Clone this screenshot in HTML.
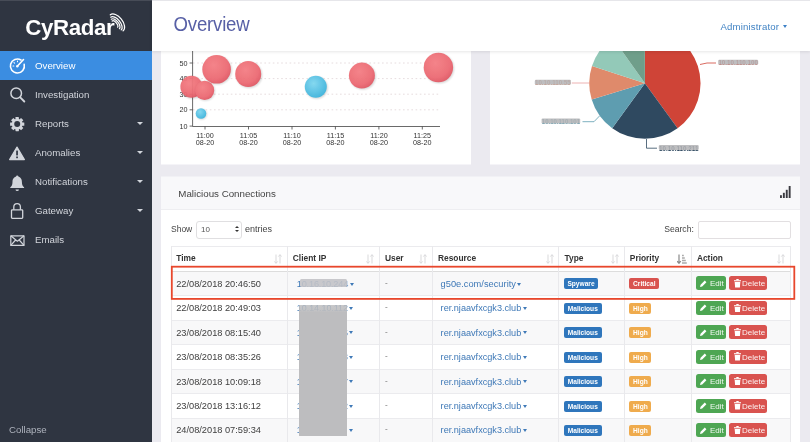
<!DOCTYPE html>
<html><head><meta charset="utf-8">
<style>
*{box-sizing:border-box;margin:0;padding:0}
html,body{width:810px;height:442px;overflow:hidden;background:#ebeaf0;font-family:"Liberation Sans",sans-serif;}
body{position:relative}
#side{position:absolute;left:0;top:0;width:152px;height:442px;box-shadow:-6px 0 0 #2f3541,-6px 6px 0 #2f3541,0 6px 0 #2f3541,-6px -6px 0 #474c57,0 -6px 0 #474c57;background:#2f3541}
#logo{position:absolute;left:25.3px;top:14.9px;font-size:22.3px;letter-spacing:-.4px;font-weight:bold;color:#fff;line-height:26px;white-space:nowrap}
.mi{position:absolute;left:0;width:152px;height:29px;color:#d2d5db;font-size:9.7px;line-height:29px;padding-left:35px;white-space:nowrap}
.mi.act{background:#3b8de1;color:#fff}
.mi svg{position:absolute;left:8px;top:5px;width:19px;height:19px;overflow:visible}
.mi .car{position:absolute;left:136.5px;top:13.3px;width:0;height:0;border-left:3px solid transparent;border-right:3px solid transparent;border-top:3.3px solid #d2d5db}
#collapse{position:absolute;left:9px;top:424px;font-size:9.7px;color:#aeb3bd;line-height:12px}
#top{position:absolute;left:152px;top:0;width:658px;height:51px;background:#fff;box-shadow:0 1px 3px rgba(0,0,0,.10),0 -5px 0 #e6e6ea,6px 0 0 #fff;z-index:5}
#title{position:absolute;left:21.6px;top:12.4px;font-size:18.6px;color:#5860a6;line-height:26px;letter-spacing:-.2px;transform:scaleY(1.08);transform-origin:0 19.1px}
#admin{position:absolute;left:568.4px;top:19.7px;font-size:9.6px;color:#4183c4;line-height:14px;white-space:nowrap;letter-spacing:.17px}
#admin i{display:inline-block;margin-left:3.6px;vertical-align:1.7px;border-left:2.7px solid transparent;border-right:2.7px solid transparent;border-top:3px solid #3d80c6}
.panel{position:absolute;background:#fff;overflow:hidden}
svg text{font-family:"Liberation Sans",sans-serif}
/* table */
#ph{position:absolute;left:0;top:0;width:100%;height:34px;background:#f8f8fa;border-bottom:1px solid #eeeef1;border-top:1px solid #f1f1f5}
#ph span{position:absolute;left:17.3px;top:9.8px;font-size:9.75px;color:#444;line-height:14px}
.t{position:absolute;font-size:8.2px;color:#404040;line-height:12px;white-space:nowrap}
.h{position:absolute;font-size:8.4px;font-weight:bold;color:#333;line-height:12px;white-space:nowrap}
.lk{color:#3f79b7}
.lk i,.caret{display:inline-block;margin-left:1.5px;vertical-align:1.2px;border-left:2.9px solid transparent;border-right:2.9px solid transparent;border-top:3.1px solid #3f79b7}
.vl{position:absolute;top:246px;width:1px;height:196px;background:#e9e9ec}
.hl{position:absolute;left:171px;width:619px;height:1px;background:#ebebee}
.row{position:absolute;left:171px;width:619px;height:24.45px}
.odd{background:#f8f8f9}
.bd{position:absolute;height:11px;border-radius:2px;color:#fff;font-size:6.6px;font-weight:bold;line-height:11px;text-align:center;white-space:nowrap}
.btn{position:absolute;height:14px;border-radius:2.5px;color:rgba(255,255,255,.92);font-size:8px;line-height:15px;white-space:nowrap}
.sort{position:absolute;width:8px;height:10px}
#wrap{position:absolute;left:-6px;top:-6px;width:822px;height:454px;background:#ebeaf0;filter:blur(.35px);overflow:hidden}
#in{position:absolute;left:6px;top:6px;width:810px;height:442px}
</style></head><body><div id="wrap"><div id="in">
<div id="side">
 <div id="logo">CyRadar</div>
 <svg style="position:absolute;left:100px;top:5px" width="40" height="40" viewBox="100 5 40 40" fill="none" stroke="#fff" stroke-width="1.25" stroke-linecap="round"><path d="M110.3 14.8 A10.24 5.90 51.3 0 1 123.1 30.8"/><path d="M110.7 17.2 A8.24 4.40 50.4 0 1 121.2 29.9"/><path d="M111.3 19.2 A6.24 3.10 49.5 0 1 119.4 28.7"/><path d="M112.2 21.0 A4.11 1.90 48.9 0 1 117.6 27.2"/></svg>
 <div class="mi act" style="top:51px"><svg viewBox="0 0 19 19" fill="none" stroke="#fff" stroke-width="1.6" stroke-linecap="round"><path d="M13 4 A7 7 0 1 0 16.2 8.4"/><path d="M9.5 10 L15.5 3.5"/><circle cx="9.3" cy="10.2" r="1.2" fill="#fff" stroke="none"/><path d="M5 10h.8M6 6.6l.6.5M9.5 5v.8" stroke-width="1.1"/></svg>Overview</div>
 <div class="mi" style="top:80px"><svg viewBox="0 0 19 19" fill="none" stroke="#d2d5db" stroke-width="1.5" stroke-linecap="round"><circle cx="8.2" cy="8.3" r="5.3"/><path d="M12.2 12.4 L16.3 16.5" stroke-width="1.9"/></svg>Investigation</div>
 <div class="mi" style="top:109px"><svg viewBox="0 0 19 19"><g transform="translate(9.2,10.1)"><g fill="#d2d5db"><rect x="-1.7" y="-7.1" width="3.4" height="14.2" rx=".4"/><rect x="-1.7" y="-7.1" width="3.4" height="14.2" rx=".4" transform="rotate(45)"/><rect x="-1.7" y="-7.1" width="3.4" height="14.2" rx=".4" transform="rotate(90)"/><rect x="-1.7" y="-7.1" width="3.4" height="14.2" rx=".4" transform="rotate(135)"/><circle r="5.4"/></g><circle r="3" fill="#2f3541"/></g></svg>Reports<span class="car"></span></div>
 <div class="mi" style="top:138px"><svg viewBox="0 -1.3 19 19"><path d="M9 2.8 L16.4 15.3 H1.6 Z" fill="#d2d5db" stroke="#d2d5db" stroke-width="1.2" stroke-linejoin="round"/><rect x="8.2" y="6.3" width="1.7" height="4.8" fill="#2f3541"/><rect x="8.2" y="12.2" width="1.7" height="1.7" fill="#2f3541"/></svg>Anomalies<span class="car"></span></div>
 <div class="mi" style="top:167px"><svg viewBox="0 -1.4 19 19" fill="#d2d5db"><path d="M9.2 3.2 c-3.3 0 -4.7 2.6 -4.7 5.3 c0 3 -1 4.3 -2.2 5.3 v.9 h13.8 v-.9 c-1.2 -1 -2.2 -2.3 -2.2 -5.3 c0 -2.7 -1.4 -5.3 -4.7 -5.3 z"/><circle cx="9.2" cy="3.2" r="1.1"/><path d="M7.5 16 h3.4 a1.7 1.7 0 0 1 -3.4 0z"/></svg>Notifications<span class="car"></span></div>
 <div class="mi" style="top:196px"><svg viewBox="0 0 19 19" fill="none" stroke="#d2d5db" stroke-width="1.3"><rect x="3.5" y="8.8" width="11.2" height="8.6" rx=".8"/><path d="M5.8 8.8 V6 a3.3 3.3 0 0 1 6.6 0 V8.8"/></svg>Gateway<span class="car"></span></div>
 <div class="mi" style="top:225px"><svg viewBox="0 0 19 19" fill="none" stroke="#d2d5db" stroke-width="1.2" stroke-linejoin="round"><rect x="2.8" y="5.8" width="13.2" height="9.6"/><path d="M2.8 5.8 L9.4 11.2 L16 5.8 M2.8 15.4 L7.6 10 M16 15.4 L11.2 10"/></svg>Emails</div>
 <div id="collapse">Collapse</div>
</div>
<div style="position:absolute;left:0;top:0;width:152px;height:1px;background:#474c57;z-index:9"></div><div style="position:absolute;left:152px;top:0;width:658px;height:1px;background:#e6e6ea;z-index:9"></div>
<div id="top"><div id="title">Overview</div><div id="admin">Administrator<i></i></div></div>

<!-- bubble chart -->
<div class="panel" style="left:161px;top:51px;width:310px;height:113px">
<svg width="310" height="113" viewBox="161 51 310 113" style="position:absolute;left:0;top:0">
 <defs>
  <radialGradient id="gr" cx="40%" cy="35%" r="65%"><stop offset="0" stop-color="#f47e84"/><stop offset=".75" stop-color="#ec6a73"/><stop offset="1" stop-color="#e05a66"/></radialGradient>
  <radialGradient id="gb" cx="40%" cy="35%" r="65%"><stop offset="0" stop-color="#7fd6ef"/><stop offset="1" stop-color="#3fb4dc"/></radialGradient>
  <filter id="sh" x="-30%" y="-30%" width="160%" height="160%"><feGaussianBlur stdDeviation="1.2"/></filter>
 </defs>
 <g stroke="#dfd3d6" stroke-width=".8" stroke-dasharray="1.6 2.6"><path d="M193 63H440M193 78.6H440M193 94.2H440M193 109.8H440"/></g>
 <g stroke="#444" stroke-width=".8" fill="none"><path d="M192.6 51V126.5H440"/><path d="M189.6 63h3M189.6 78.6h3M189.6 94.2h3M189.6 109.8h3M189.6 126.1h3"/><path d="M205 126.5v3M248.5 126.5v3M292 126.5v3M335.4 126.5v3M378.9 126.5v3M422.3 126.5v3"/></g>
 <g font-size="7.2" fill="#333" text-anchor="end"><text x="187.5" y="65.6">50</text><text x="187.5" y="81.2">40</text><text x="187.5" y="96.8">30</text><text x="187.5" y="112.4">20</text><text x="187.5" y="128.7">10</text></g>
 <g font-size="7.2" fill="#333" text-anchor="middle">
  <text x="205" y="138">11:00</text><text x="205" y="145.3">08-20</text>
  <text x="248.5" y="138">11:05</text><text x="248.5" y="145.3">08-20</text>
  <text x="292" y="138">11:10</text><text x="292" y="145.3">08-20</text>
  <text x="335.4" y="138">11:15</text><text x="335.4" y="145.3">08-20</text>
  <text x="378.9" y="138">11:20</text><text x="378.9" y="145.3">08-20</text>
  <text x="422.3" y="138">11:25</text><text x="422.3" y="145.3">08-20</text>
 </g>
 <g opacity=".95">
  <circle cx="192.3" cy="87.6" r="11" fill="#000" opacity=".18" filter="url(#sh)"/><circle cx="191.4" cy="86.7" r="11" fill="url(#gr)"/>
  <circle cx="205.4" cy="91.2" r="9.6" fill="#000" opacity=".18" filter="url(#sh)"/><circle cx="204.6" cy="90.4" r="9.6" fill="url(#gr)"/>
  <circle cx="217.5" cy="70.2" r="14.3" fill="#000" opacity=".18" filter="url(#sh)"/><circle cx="216.6" cy="69.3" r="14.3" fill="url(#gr)"/>
  <circle cx="249.2" cy="75" r="13" fill="#000" opacity=".18" filter="url(#sh)"/><circle cx="248.2" cy="74" r="13" fill="url(#gr)"/>
  <circle cx="201.7" cy="114.2" r="5.3" fill="#000" opacity=".18" filter="url(#sh)"/><circle cx="201" cy="113.5" r="5.3" fill="url(#gb)"/>
  <circle cx="316.7" cy="87.7" r="11" fill="#000" opacity=".18" filter="url(#sh)"/><circle cx="315.8" cy="86.8" r="11" fill="url(#gb)"/>
  <circle cx="362.9" cy="76.6" r="13" fill="#000" opacity=".18" filter="url(#sh)"/><circle cx="361.9" cy="75.6" r="13" fill="url(#gr)"/>
  <circle cx="439.4" cy="68.5" r="14.7" fill="#000" opacity=".18" filter="url(#sh)"/><circle cx="438.4" cy="67.5" r="14.7" fill="url(#gr)"/>
 </g>
</svg>
</div>

<!-- pie -->
<div class="panel" style="left:490px;top:51px;width:310px;height:113px">
<svg width="310" height="113" viewBox="490 51 310 113" style="position:absolute;left:0;top:0">
 <defs><filter id="bl" x="-10%" y="-50%" width="120%" height="200%"><feGaussianBlur stdDeviation=".55"/></filter></defs><g id="pie"><path d="M644.9 83.2 L644.9 27.6 A55.6 55.6 0 0 1 677.6 128.2 Z" fill="#cf4437"/><path d="M644.9 83.2 L677.6 128.2 A55.6 55.6 0 0 1 612.2 128.2 Z" fill="#2f4960"/><path d="M644.9 83.2 L612.2 128.2 A55.6 55.6 0 0 1 591.7 99.5 Z" fill="#5e9db0"/><path d="M644.9 83.2 L591.7 99.5 A55.6 55.6 0 0 1 592.0 66.0 Z" fill="#df8a6b"/><path d="M644.9 83.2 L592.0 66.0 A55.6 55.6 0 0 1 612.7 37.9 Z" fill="#93c9b8"/><path d="M644.9 83.2 L612.7 37.9 A55.6 55.6 0 0 1 644.9 27.6 Z" fill="#6f9e8a"/><g fill="none" stroke-width=".8"><path d="M700 64.5 L707 63 H716" stroke="#cf4437"/><path d="M589.5 83 H571.8" stroke="#e9a0a0"/><path d="M599.5 116 L594 121.7 H582.5" stroke="#5e9db0"/><path d="M646.5 139 V148.2 H657" stroke="#2f4960"/></g><g font-size="6.8" font-weight="bold" filter="url(#bl)"><text x="718.4" y="65.4" textLength="39.6" lengthAdjust="spacingAndGlyphs" fill="#cf4437">10.10.110.100</text><text x="535.0" y="85.4" textLength="35.7" lengthAdjust="spacingAndGlyphs" fill="#df8a6b">10.10.110.55</text><text x="541.8" y="124.1" textLength="38.2" lengthAdjust="spacingAndGlyphs" fill="#5e9db0">10.10.110.101</text><text x="659.0" y="150.6" textLength="39.5" lengthAdjust="spacingAndGlyphs" fill="#2f4960">10.10.110.211</text></g><g filter="url(#bl)" fill="#b3b3b6"><rect x="718.2" y="59.7" width="40.0" height="5" rx="1.2" opacity=".86"/><rect x="534.8" y="79.7" width="36.1" height="5" rx="1.2" opacity=".86"/><rect x="541.6" y="118.4" width="38.6" height="5" rx="1.2" opacity=".86"/><rect x="658.8" y="144.9" width="39.9" height="5" rx="1.2" opacity=".86"/></g></g>
</svg>
</div>

<div style="position:absolute;left:161px;top:164px;width:310px;height:1px;background:#f5f4f8"></div><div style="position:absolute;left:490px;top:164px;width:310px;height:1px;background:#f5f4f8"></div>
<!-- table panel -->
<div class="panel" id="p3" style="left:161px;top:176px;width:639px;height:274px">
 <div id="ph"><span>Malicious Connections</span></div>
<div class="t" style="left:10.0px;top:47.0px;font-size:8.5px;color:#444">Show</div><div style="position:absolute;left:35.0px;top:44.5px;width:46px;height:18px;border:1px solid #e0dfe1;border-radius:3px;background:#fff"></div><div class="t" style="left:40.0px;top:47.5px;font-size:8px;color:#555">10</div><div style="position:absolute;left:74.0px;top:50.0px;width:0;height:0;border-left:2px solid transparent;border-right:2px solid transparent;border-bottom:2.5px solid #333"></div><div style="position:absolute;left:74.0px;top:54.0px;width:0;height:0;border-left:2px solid transparent;border-right:2px solid transparent;border-top:2.5px solid #333"></div><div class="t" style="left:84.0px;top:47.0px;font-size:9px;color:#444">entries</div><div class="t" style="left:503.2px;top:47.0px;font-size:8.620px;color:#444">Search:</div><div style="position:absolute;left:537.0px;top:44.5px;width:92.5px;height:18px;border:1px solid #e2dfe1;border-radius:2px;background:#fff"></div><svg style="position:absolute;left:619.3px;top:10.0px" width="11" height="12" viewBox="0 0 11 12" fill="#3a3a40"><rect x="0" y="9.2" width="1.9" height="2.8"/><rect x="2.9" y="6.8" width="1.9" height="5.2"/><rect x="5.8" y="3.8" width="1.9" height="8.2"/><rect x="8.7" y="0" width="1.9" height="12"/></svg><div class="row odd" style="left:10.0px;top:95.5px"></div><div class="row" style="left:10.0px;top:119.9px"></div><div class="row odd" style="left:10.0px;top:144.4px"></div><div class="row" style="left:10.0px;top:168.9px"></div><div class="row odd" style="left:10.0px;top:193.3px"></div><div class="row" style="left:10.0px;top:217.8px"></div><div class="row odd" style="left:10.0px;top:242.2px"></div><div class="hl" style="left:10.0px;top:70.0px"></div><div class="hl" style="left:10.0px;top:94.5px;background:#ddd"></div><div class="hl" style="left:10.0px;top:119.4px"></div><div class="hl" style="left:10.0px;top:143.9px"></div><div class="hl" style="left:10.0px;top:168.4px"></div><div class="hl" style="left:10.0px;top:192.8px"></div><div class="hl" style="left:10.0px;top:217.2px"></div><div class="hl" style="left:10.0px;top:241.7px"></div><div class="vl" style="left:10.0px;top:70.0px"></div><div class="vl" style="left:126.0px;top:70.0px"></div><div class="vl" style="left:218.0px;top:70.0px"></div><div class="vl" style="left:271.0px;top:70.0px"></div><div class="vl" style="left:397.0px;top:70.0px"></div><div class="vl" style="left:463.0px;top:70.0px"></div><div class="vl" style="left:530.0px;top:70.0px"></div><div class="vl" style="left:629.0px;top:70.0px"></div><div class="h" style="left:15.3px;top:75.8px">Time</div><div class="h" style="left:131.8px;top:75.8px">Client IP</div><div class="h" style="left:224.0px;top:75.8px">User</div><div class="h" style="left:277.0px;top:75.8px">Resource</div><div class="h" style="left:403.6px;top:75.8px">Type</div><div class="h" style="left:468.8px;top:75.8px">Priority</div><div class="h" style="left:535.9px;top:75.8px">Action</div><svg class="sort" style="left:112.5px;top:77.5px" viewBox="0 0 8 10" fill="none" stroke="#d9d9db" stroke-width="1"><path d="M2 .5V9.3M.3 7.4L2 9.3L3.7 7.4M6 9.5V.7M4.3 2.6L6 .7L7.7 2.6"/></svg><svg class="sort" style="left:205.4px;top:77.5px" viewBox="0 0 8 10" fill="none" stroke="#d9d9db" stroke-width="1"><path d="M2 .5V9.3M.3 7.4L2 9.3L3.7 7.4M6 9.5V.7M4.3 2.6L6 .7L7.7 2.6"/></svg><svg class="sort" style="left:257.8px;top:77.5px" viewBox="0 0 8 10" fill="none" stroke="#d9d9db" stroke-width="1"><path d="M2 .5V9.3M.3 7.4L2 9.3L3.7 7.4M6 9.5V.7M4.3 2.6L6 .7L7.7 2.6"/></svg><svg class="sort" style="left:384.6px;top:77.5px" viewBox="0 0 8 10" fill="none" stroke="#d9d9db" stroke-width="1"><path d="M2 .5V9.3M.3 7.4L2 9.3L3.7 7.4M6 9.5V.7M4.3 2.6L6 .7L7.7 2.6"/></svg><svg class="sort" style="left:449.7px;top:77.5px" viewBox="0 0 8 10" fill="none" stroke="#d9d9db" stroke-width="1"><path d="M2 .5V9.3M.3 7.4L2 9.3L3.7 7.4M6 9.5V.7M4.3 2.6L6 .7L7.7 2.6"/></svg><svg class="sort" style="left:616.4px;top:77.5px" viewBox="0 0 8 10" fill="none" stroke="#d9d9db" stroke-width="1"><path d="M2 .5V9.3M.3 7.4L2 9.3L3.7 7.4M6 9.5V.7M4.3 2.6L6 .7L7.7 2.6"/></svg><svg class="sort" style="left:516.2px;top:77.5px;width:10px" viewBox="0 0 10 10" fill="none" stroke="#8a8a8a" stroke-width="1.2"><path d="M2 .5V9.3M.2 7.2L2 9.3L3.8 7.2"/><path d="M5 1.5h1.8M5 4h2.8M5 6.5h3.8M5 9h4.8" stroke="#aaa" stroke-width="1.5"/></svg><div class="t" style="left:15.2px;top:101.7px;font-size:9.240px">22/08/2018 20:46:50</div><div class="t lk" style="left:135.8px;top:101.7px;font-size:9.2px"><span style="letter-spacing:-.2px">10.16.10.244</span><i></i></div><div class="t" style="left:224.0px;top:101.7px;color:#888">-</div><div class="t lk" style="left:279.6px;top:101.7px;font-size:9.290px">g50e.com/security<i></i></div><div class="bd" style="left:403.0px;top:102.4px;width:34px;background:#2f76bc">Spyware</div><div class="bd" style="left:468.3px;top:102.4px;width:30px;background:#d9534f">Critical</div><div class="btn" style="left:535.4px;top:100.3px;width:29.2px;background:#4ea653;padding-left:13.5px"><svg style="position:absolute;left:4px;top:3.5px" width="7" height="7" viewBox="0 0 7 7"><path d="M0 7L.6 4.8L4.8 .6L6.4 2.2L2.2 6.4Z" fill="#fff"/></svg>Edit</div><div class="btn" style="left:568.0px;top:100.3px;width:38.3px;background:#d9534f;padding-left:13px"><svg style="position:absolute;left:4.5px;top:2.8px" width="7" height="8.5" viewBox="0 0 7 8.5" fill="#fff"><rect x="0" y="1.2" width="7" height="1.1"/><rect x="2.3" y="0" width="2.4" height="1.2"/><path d="M.7 2.9H6.3L5.9 8.5H1.1Z"/></svg>Delete</div><div class="t" style="left:15.2px;top:126.2px;font-size:9.240px">22/08/2018 20:49:03</div><div class="t lk" style="left:135.8px;top:126.2px;font-size:8.9px"><span>10.14.10.112</span><i></i></div><div class="t" style="left:224.0px;top:126.2px;color:#888">-</div><div class="t lk" style="left:279.6px;top:126.2px;font-size:9.150px">rer.njaavfxcgk3.club<i></i></div><div class="bd" style="left:403.0px;top:126.9px;width:37.6px;background:#2f76bc">Malicious</div><div class="bd" style="left:468.3px;top:126.9px;width:22.2px;background:#efab4d">High</div><div class="btn" style="left:535.4px;top:124.8px;width:29.2px;background:#4ea653;padding-left:13.5px"><svg style="position:absolute;left:4px;top:3.5px" width="7" height="7" viewBox="0 0 7 7"><path d="M0 7L.6 4.8L4.8 .6L6.4 2.2L2.2 6.4Z" fill="#fff"/></svg>Edit</div><div class="btn" style="left:568.0px;top:124.8px;width:38.3px;background:#d9534f;padding-left:13px"><svg style="position:absolute;left:4.5px;top:2.8px" width="7" height="8.5" viewBox="0 0 7 8.5" fill="#fff"><rect x="0" y="1.2" width="7" height="1.1"/><rect x="2.3" y="0" width="2.4" height="1.2"/><path d="M.7 2.9H6.3L5.9 8.5H1.1Z"/></svg>Delete</div><div class="t" style="left:15.2px;top:150.6px;font-size:9.240px">23/08/2018 08:15:40</div><div class="t lk" style="left:135.8px;top:150.6px;font-size:8.9px"><span>10.14.10.115</span><i></i></div><div class="t" style="left:224.0px;top:150.6px;color:#888">-</div><div class="t lk" style="left:279.6px;top:150.6px;font-size:9.150px">rer.njaavfxcgk3.club<i></i></div><div class="bd" style="left:403.0px;top:151.3px;width:37.6px;background:#2f76bc">Malicious</div><div class="bd" style="left:468.3px;top:151.3px;width:22.2px;background:#efab4d">High</div><div class="btn" style="left:535.4px;top:149.2px;width:29.2px;background:#4ea653;padding-left:13.5px"><svg style="position:absolute;left:4px;top:3.5px" width="7" height="7" viewBox="0 0 7 7"><path d="M0 7L.6 4.8L4.8 .6L6.4 2.2L2.2 6.4Z" fill="#fff"/></svg>Edit</div><div class="btn" style="left:568.0px;top:149.2px;width:38.3px;background:#d9534f;padding-left:13px"><svg style="position:absolute;left:4.5px;top:2.8px" width="7" height="8.5" viewBox="0 0 7 8.5" fill="#fff"><rect x="0" y="1.2" width="7" height="1.1"/><rect x="2.3" y="0" width="2.4" height="1.2"/><path d="M.7 2.9H6.3L5.9 8.5H1.1Z"/></svg>Delete</div><div class="t" style="left:15.2px;top:175.1px;font-size:9.240px">23/08/2018 08:35:26</div><div class="t lk" style="left:135.8px;top:175.1px;font-size:8.9px"><span>10.14.10.113</span><i></i></div><div class="t" style="left:224.0px;top:175.1px;color:#888">-</div><div class="t lk" style="left:279.6px;top:175.1px;font-size:9.150px">rer.njaavfxcgk3.club<i></i></div><div class="bd" style="left:403.0px;top:175.8px;width:37.6px;background:#2f76bc">Malicious</div><div class="bd" style="left:468.3px;top:175.8px;width:22.2px;background:#efab4d">High</div><div class="btn" style="left:535.4px;top:173.7px;width:29.2px;background:#4ea653;padding-left:13.5px"><svg style="position:absolute;left:4px;top:3.5px" width="7" height="7" viewBox="0 0 7 7"><path d="M0 7L.6 4.8L4.8 .6L6.4 2.2L2.2 6.4Z" fill="#fff"/></svg>Edit</div><div class="btn" style="left:568.0px;top:173.7px;width:38.3px;background:#d9534f;padding-left:13px"><svg style="position:absolute;left:4.5px;top:2.8px" width="7" height="8.5" viewBox="0 0 7 8.5" fill="#fff"><rect x="0" y="1.2" width="7" height="1.1"/><rect x="2.3" y="0" width="2.4" height="1.2"/><path d="M.7 2.9H6.3L5.9 8.5H1.1Z"/></svg>Delete</div><div class="t" style="left:15.2px;top:199.5px;font-size:9.240px">23/08/2018 10:09:18</div><div class="t lk" style="left:135.8px;top:199.5px;font-size:8.9px"><span>10.14.10.117</span><i></i></div><div class="t" style="left:224.0px;top:199.5px;color:#888">-</div><div class="t lk" style="left:279.6px;top:199.5px;font-size:9.150px">rer.njaavfxcgk3.club<i></i></div><div class="bd" style="left:403.0px;top:200.2px;width:37.6px;background:#2f76bc">Malicious</div><div class="bd" style="left:468.3px;top:200.2px;width:22.2px;background:#efab4d">High</div><div class="btn" style="left:535.4px;top:198.1px;width:29.2px;background:#4ea653;padding-left:13.5px"><svg style="position:absolute;left:4px;top:3.5px" width="7" height="7" viewBox="0 0 7 7"><path d="M0 7L.6 4.8L4.8 .6L6.4 2.2L2.2 6.4Z" fill="#fff"/></svg>Edit</div><div class="btn" style="left:568.0px;top:198.1px;width:38.3px;background:#d9534f;padding-left:13px"><svg style="position:absolute;left:4.5px;top:2.8px" width="7" height="8.5" viewBox="0 0 7 8.5" fill="#fff"><rect x="0" y="1.2" width="7" height="1.1"/><rect x="2.3" y="0" width="2.4" height="1.2"/><path d="M.7 2.9H6.3L5.9 8.5H1.1Z"/></svg>Delete</div><div class="t" style="left:15.2px;top:224.0px;font-size:9.240px">23/08/2018 13:16:12</div><div class="t lk" style="left:135.8px;top:224.0px;font-size:8.9px"><span>10.14.10.112</span><i></i></div><div class="t" style="left:224.0px;top:224.0px;color:#888">-</div><div class="t lk" style="left:279.6px;top:224.0px;font-size:9.150px">rer.njaavfxcgk3.club<i></i></div><div class="bd" style="left:403.0px;top:224.7px;width:37.6px;background:#2f76bc">Malicious</div><div class="bd" style="left:468.3px;top:224.7px;width:22.2px;background:#efab4d">High</div><div class="btn" style="left:535.4px;top:222.6px;width:29.2px;background:#4ea653;padding-left:13.5px"><svg style="position:absolute;left:4px;top:3.5px" width="7" height="7" viewBox="0 0 7 7"><path d="M0 7L.6 4.8L4.8 .6L6.4 2.2L2.2 6.4Z" fill="#fff"/></svg>Edit</div><div class="btn" style="left:568.0px;top:222.6px;width:38.3px;background:#d9534f;padding-left:13px"><svg style="position:absolute;left:4.5px;top:2.8px" width="7" height="8.5" viewBox="0 0 7 8.5" fill="#fff"><rect x="0" y="1.2" width="7" height="1.1"/><rect x="2.3" y="0" width="2.4" height="1.2"/><path d="M.7 2.9H6.3L5.9 8.5H1.1Z"/></svg>Delete</div><div class="t" style="left:15.2px;top:248.4px;font-size:9.240px">24/08/2018 07:59:34</div><div class="t lk" style="left:135.8px;top:248.4px;font-size:8.9px"><span>10.14.10.111</span><i></i></div><div class="t" style="left:224.0px;top:248.4px;color:#888">-</div><div class="t lk" style="left:279.6px;top:248.4px;font-size:9.150px">rer.njaavfxcgk3.club<i></i></div><div class="bd" style="left:403.0px;top:249.1px;width:37.6px;background:#2f76bc">Malicious</div><div class="bd" style="left:468.3px;top:249.1px;width:22.2px;background:#efab4d">High</div><div class="btn" style="left:535.4px;top:247.0px;width:29.2px;background:#4ea653;padding-left:13.5px"><svg style="position:absolute;left:4px;top:3.5px" width="7" height="7" viewBox="0 0 7 7"><path d="M0 7L.6 4.8L4.8 .6L6.4 2.2L2.2 6.4Z" fill="#fff"/></svg>Edit</div><div class="btn" style="left:568.0px;top:247.0px;width:38.3px;background:#d9534f;padding-left:13px"><svg style="position:absolute;left:4.5px;top:2.8px" width="7" height="8.5" viewBox="0 0 7 8.5" fill="#fff"><rect x="0" y="1.2" width="7" height="1.1"/><rect x="2.3" y="0" width="2.4" height="1.2"/><path d="M.7 2.9H6.3L5.9 8.5H1.1Z"/></svg>Delete</div><div style="position:absolute;left:139.3px;top:103.2px;width:47px;height:7.4px;background:#c2c2c6;border-radius:1.5px;opacity:.9"></div><div style="position:absolute;left:137.8px;top:128.5px;width:48px;height:131.7px;background:linear-gradient(to bottom,rgba(189,189,191,.84) 0,rgba(189,189,191,.9) 5px,#bdbdbf 7.5px)"></div><svg style="position:absolute;left:0;top:0" width="639" height="266" viewBox="161 176 639 266"><rect x="171.8" y="266.7" width="622.5" height="32.2" fill="none" stroke="#e8472c" stroke-width="1.8"/></svg>
</div>
</div></div></body></html>
